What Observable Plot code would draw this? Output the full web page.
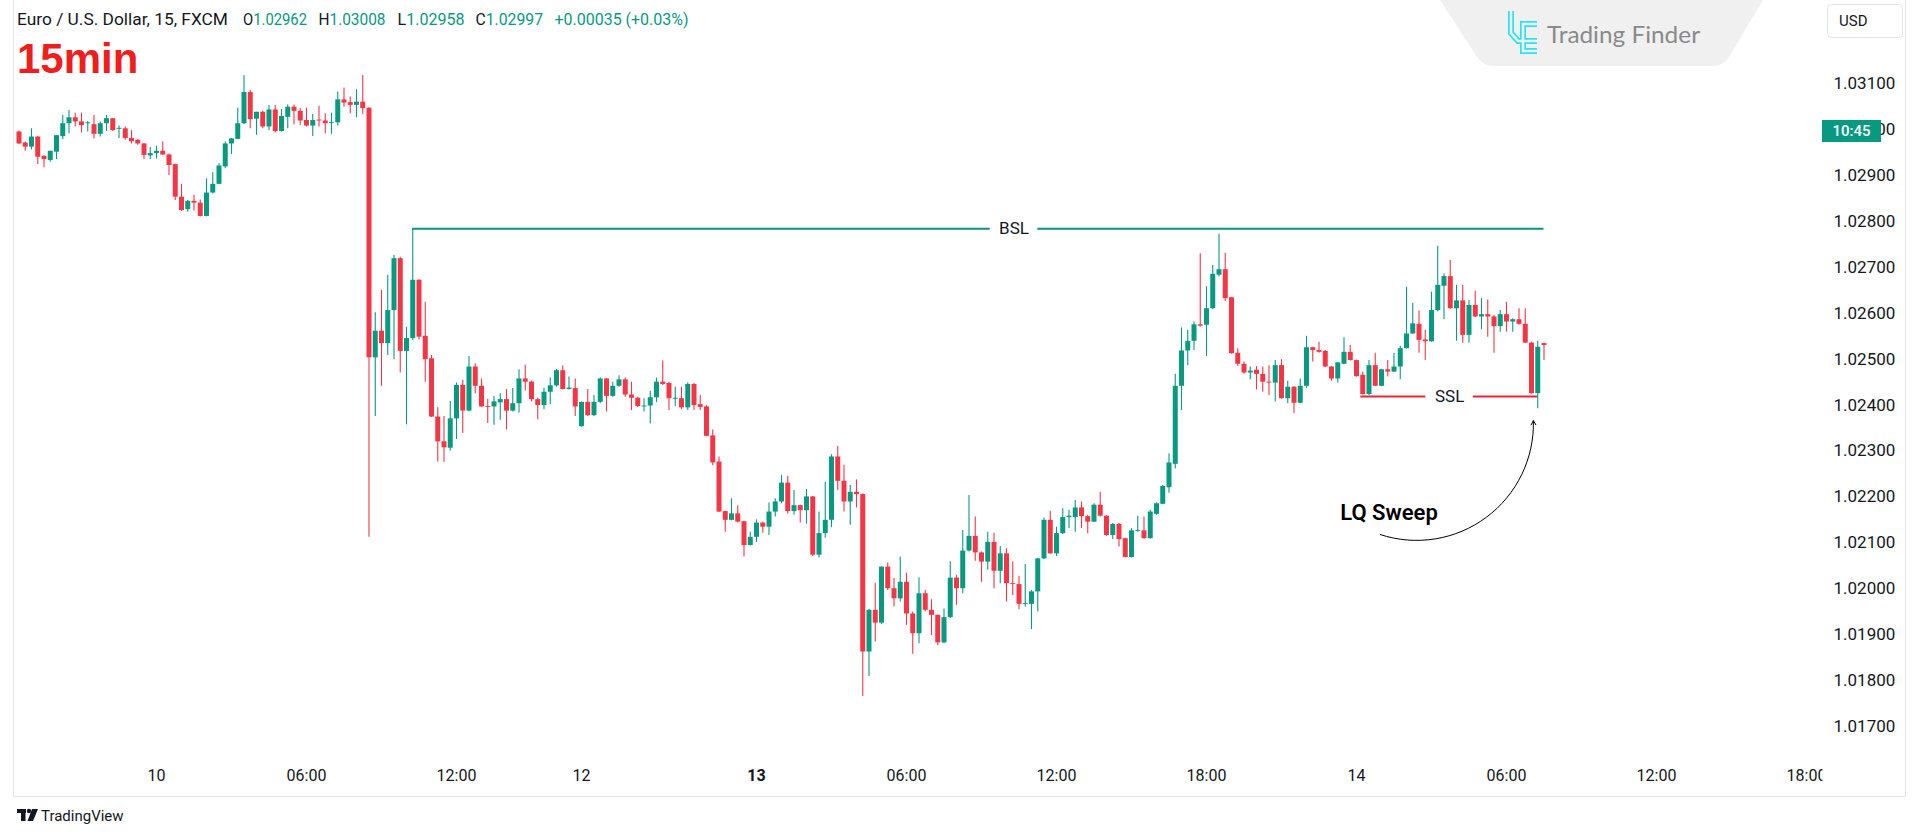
<!DOCTYPE html>
<html><head><meta charset="utf-8">
<script src="https://cdn.jsdelivr.net/npm/d3@7"></script>
<script src="https://cdn.jsdelivr.net/npm/@observablehq/plot@0.6"></script>
<style>
html,body{margin:0;padding:0;background:#fff;}
#wrap{position:relative;width:1920px;height:840px;overflow:hidden;font-family:Roboto,sans-serif;}
#wrap svg{position:absolute;left:0;top:0;}
</style></head>
<body><div id="wrap"></div>
<script>
// ---- data (EUR/USD 15 min candles, bar index relative to 13 Jan 00:00) ----
const firstIndex = -118;
const opens = [
1.02995,1.02971,1.02962,1.02984,1.02942,1.02933,1.02951,1.02985,1.03013,1.03026,
1.03017,1.03013,1.03011,1.02990,1.03013,1.03024,1.03001,1.03002,1.02981,1.02977,
1.02969,1.02943,1.02948,1.02953,1.02945,1.02924,1.02853,1.02826,1.02844,1.02840,
1.02811,1.02862,1.02881,1.02919,1.02969,1.02979,1.03013,1.03081,1.03023,1.03038,
1.03006,1.03043,1.02996,1.03027,1.03049,1.03040,1.03020,1.03008,1.03021,1.03019,
1.03014,1.03015,1.03065,1.03059,1.03053,1.03060,1.03047,1.02503,1.02561,1.02534,
1.02606,1.02719,1.02517,1.02545,1.02672,1.02550,1.02501,1.02374,1.02320,1.02306,
1.02370,1.02443,1.02387,1.02483,1.02441,1.02397,1.02396,1.02405,1.02412,1.02387,
1.02403,1.02457,1.02450,1.02412,1.02399,1.02428,1.02442,1.02475,1.02434,1.02436,
1.02353,1.02406,1.02377,1.02406,1.02457,1.02419,1.02441,1.02455,1.02422,1.02415,
1.02396,1.02398,1.02416,1.02450,1.02447,1.02413,1.02414,1.02394,1.02445,1.02401,
1.02396,1.02333,1.02276,1.02168,1.02149,1.02163,1.02146,1.02094,1.02112,1.02143,
1.02134,1.02167,1.02189,1.02230,1.02168,1.02181,1.02170,1.02200,1.02073,1.02120,
1.02149,1.02287,1.02234,1.02189,1.02210,1.02205,1.01862,1.01953,1.01925,1.02047,
1.02000,1.01978,1.02014,1.01945,1.01902,1.01989,1.01953,1.01942,1.01882,1.01937,
1.02023,1.02000,1.02082,1.02114,1.02078,1.02058,1.02101,1.02038,1.02076,1.02011,
1.02009,1.01966,1.01966,1.01993,1.02065,1.02149,1.02076,1.02120,1.02155,1.02155,
1.02176,1.02157,1.02145,1.02182,1.02158,1.02116,1.02140,1.02109,1.02068,1.02125,
1.02126,1.02109,1.02162,1.02184,1.02220,1.02271,1.02441,1.02518,1.02539,1.02575,
1.02574,1.02610,1.02683,1.02695,1.02634,1.02513,1.02489,1.02470,1.02476,1.02467,
1.02450,1.02448,1.02486,1.02414,1.02439,1.02404,1.02441,1.02525,1.02519,1.02517,
1.02483,1.02457,1.02489,1.02515,1.02497,1.02465,1.02423,1.02486,1.02441,1.02477,
1.02472,1.02483,1.02523,1.02555,1.02576,1.02542,1.02538,1.02606,1.02659,1.02680,
1.02610,1.02627,1.02552,1.02617,1.02592,1.02597,1.02592,1.02571,1.02597,1.02581,
1.02586,1.02576,1.02535,1.02425,1.02534];
const highs = [
1.02997,1.02973,1.03002,1.02985,1.02943,1.02953,1.02987,1.03031,1.03042,1.03036,
1.03036,1.03018,1.03031,1.03017,1.03031,1.03024,1.03008,1.03006,1.02998,1.02978,
1.02970,1.02961,1.02964,1.02973,1.02947,1.02925,1.02881,1.02846,1.02857,1.02847,
1.02893,1.02906,1.02926,1.02973,1.02981,1.03047,1.03118,1.03086,1.03038,1.03040,
1.03053,1.03053,1.03044,1.03054,1.03054,1.03046,1.03047,1.03033,1.03051,1.03035,
1.03036,1.03082,1.03091,1.03071,1.03087,1.03118,1.03048,1.02601,1.02650,1.02683,
1.02726,1.02722,1.02570,1.02784,1.02673,1.02624,1.02508,1.02394,1.02375,1.02408,
1.02448,1.02454,1.02506,1.02490,1.02457,1.02412,1.02419,1.02425,1.02434,1.02436,
1.02477,1.02487,1.02452,1.02415,1.02437,1.02459,1.02478,1.02485,1.02461,1.02457,
1.02407,1.02434,1.02421,1.02459,1.02458,1.02450,1.02464,1.02459,1.02450,1.02417,
1.02414,1.02430,1.02459,1.02496,1.02450,1.02439,1.02439,1.02448,1.02447,1.02421,
1.02399,1.02346,1.02287,1.02169,1.02196,1.02181,1.02147,1.02123,1.02150,1.02145,
1.02187,1.02196,1.02247,1.02245,1.02214,1.02182,1.02216,1.02201,1.02167,1.02232,
1.02292,1.02310,1.02269,1.02225,1.02237,1.02207,1.01955,1.02012,1.02048,1.02056,
1.02022,1.02069,1.02034,1.01949,1.02024,1.01996,1.01976,1.01943,1.01956,1.02059,
1.02029,1.02127,1.02203,1.02156,1.02080,1.02123,1.02121,1.02092,1.02087,1.02058,
1.02027,1.02053,1.01996,1.02066,1.02154,1.02169,1.02134,1.02174,1.02171,1.02192,
1.02189,1.02160,1.02185,1.02210,1.02159,1.02142,1.02142,1.02110,1.02131,1.02158,
1.02156,1.02171,1.02187,1.02225,1.02294,1.02467,1.02568,1.02563,1.02581,1.02730,
1.02658,1.02704,1.02772,1.02731,1.02635,1.02523,1.02494,1.02483,1.02484,1.02483,
1.02486,1.02497,1.02499,1.02452,1.02440,1.02457,1.02550,1.02526,1.02537,1.02519,
1.02484,1.02493,1.02547,1.02530,1.02498,1.02472,1.02497,1.02513,1.02478,1.02497,
1.02513,1.02528,1.02657,1.02622,1.02605,1.02563,1.02646,1.02746,1.02686,1.02715,
1.02661,1.02661,1.02628,1.02648,1.02632,1.02629,1.02595,1.02606,1.02624,1.02588,
1.02610,1.02610,1.02537,1.02539,1.02535];
const lows = [
1.02967,1.02953,1.02956,1.02924,1.02917,1.02929,1.02935,1.02978,1.02991,1.03006,
1.02993,1.02995,1.02980,1.02984,1.02996,1.02996,1.02981,1.02977,1.02969,1.02966,
1.02935,1.02935,1.02936,1.02944,1.02900,1.02846,1.02822,1.02820,1.02823,1.02810,
1.02810,1.02860,1.02880,1.02915,1.02946,1.02978,1.03011,1.03002,1.02988,1.03002,
1.02998,1.02993,1.02995,1.03002,1.03011,1.03009,1.03006,1.02985,1.03006,1.02991,
1.02990,1.03008,1.03049,1.03035,1.03026,1.03033,1.02112,1.02375,1.02441,1.02508,
1.02499,1.02470,1.02357,1.02540,1.02542,1.02450,1.02373,1.02276,1.02275,1.02300,
1.02325,1.02338,1.02385,1.02425,1.02395,1.02360,1.02356,1.02367,1.02346,1.02385,
1.02383,1.02431,1.02407,1.02368,1.02390,1.02401,1.02439,1.02433,1.02433,1.02375,
1.02352,1.02375,1.02375,1.02403,1.02385,1.02417,1.02439,1.02417,1.02388,1.02395,
1.02385,1.02359,1.02406,1.02443,1.02388,1.02397,1.02390,1.02388,1.02388,1.02388,
1.02331,1.02268,1.02166,1.02123,1.02148,1.02143,1.02069,1.02093,1.02101,1.02121,
1.02116,1.02156,1.02185,1.02163,1.02160,1.02143,1.02141,1.02070,1.02067,1.02110,
1.02133,1.02214,1.02167,1.02138,1.02176,1.01765,1.01809,1.01884,1.01922,1.01996,
1.01960,1.01971,1.01920,1.01857,1.01880,1.01950,1.01898,1.01876,1.01880,1.01935,
1.01964,1.01989,1.02080,1.02060,1.02014,1.02040,1.02000,1.02011,1.01971,1.01985,
1.01954,1.01960,1.01911,1.01949,1.02063,1.02075,1.02070,1.02118,1.02131,1.02123,
1.02131,1.02120,1.02144,1.02156,1.02114,1.02107,1.02091,1.02067,1.02067,1.02123,
1.02108,1.02108,1.02160,1.02183,1.02208,1.02261,1.02388,1.02486,1.02519,1.02570,
1.02506,1.02608,1.02679,1.02626,1.02511,1.02484,1.02467,1.02455,1.02433,1.02428,
1.02421,1.02407,1.02413,1.02403,1.02381,1.02403,1.02436,1.02494,1.02513,1.02482,
1.02452,1.02448,1.02488,1.02496,1.02461,1.02422,1.02421,1.02440,1.02440,1.02461,
1.02471,1.02455,1.02522,1.02554,1.02513,1.02497,1.02537,1.02603,1.02586,1.02609,
1.02539,1.02535,1.02535,1.02591,1.02564,1.02548,1.02513,1.02559,1.02559,1.02559,
1.02574,1.02534,1.02424,1.02392,1.02497];
const closes = [
1.02969,1.02962,1.02984,1.02940,1.02935,1.02953,1.02987,1.03013,1.03026,1.03017,
1.03009,1.03015,1.02990,1.03013,1.03024,1.02998,1.03003,1.02981,1.02974,1.02969,
1.02944,1.02948,1.02953,1.02945,1.02922,1.02853,1.02824,1.02844,1.02840,1.02811,
1.02862,1.02881,1.02921,1.02969,1.02980,1.03013,1.03081,1.03022,1.03038,1.03006,
1.03043,1.02996,1.03029,1.03049,1.03040,1.03019,1.03008,1.03020,1.03019,1.03013,
1.03016,1.03065,1.03058,1.03053,1.03060,1.03046,1.02503,1.02561,1.02534,1.02606,
1.02719,1.02517,1.02545,1.02672,1.02548,1.02499,1.02374,1.02320,1.02307,1.02370,
1.02443,1.02387,1.02483,1.02441,1.02396,1.02395,1.02407,1.02412,1.02387,1.02403,
1.02457,1.02450,1.02412,1.02399,1.02428,1.02442,1.02475,1.02434,1.02437,1.02396,
1.02406,1.02377,1.02406,1.02457,1.02419,1.02441,1.02455,1.02422,1.02415,1.02397,
1.02398,1.02416,1.02450,1.02445,1.02414,1.02415,1.02394,1.02445,1.02399,1.02395,
1.02332,1.02274,1.02167,1.02149,1.02163,1.02145,1.02094,1.02112,1.02143,1.02134,
1.02167,1.02189,1.02230,1.02168,1.02181,1.02170,1.02200,1.02073,1.02120,1.02149,
1.02287,1.02234,1.02189,1.02210,1.02205,1.01862,1.01953,1.01925,1.02047,1.02000,
1.01978,1.02014,1.01945,1.01902,1.01989,1.01953,1.01942,1.01882,1.01937,1.02023,
1.02000,1.02082,1.02114,1.02078,1.02058,1.02101,1.02038,1.02076,1.02011,1.02009,
1.01966,1.01968,1.01993,1.02065,1.02149,1.02076,1.02120,1.02155,1.02158,1.02176,
1.02157,1.02145,1.02182,1.02158,1.02116,1.02140,1.02107,1.02068,1.02126,1.02127,
1.02109,1.02167,1.02185,1.02223,1.02274,1.02441,1.02518,1.02539,1.02575,1.02572,
1.02610,1.02685,1.02695,1.02632,1.02512,1.02489,1.02470,1.02474,1.02467,1.02450,
1.02448,1.02486,1.02414,1.02439,1.02404,1.02441,1.02525,1.02519,1.02515,1.02483,
1.02457,1.02492,1.02515,1.02497,1.02462,1.02423,1.02486,1.02441,1.02477,1.02472,
1.02483,1.02523,1.02555,1.02577,1.02541,1.02538,1.02606,1.02661,1.02680,1.02610,
1.02627,1.02552,1.02617,1.02592,1.02597,1.02592,1.02571,1.02597,1.02581,1.02586,
1.02576,1.02535,1.02425,1.02526,1.02530];

const timeTickIndex  = [-96, -72, -48, -28, 0, 24, 48, 72, 96, 120, 144, 168];
const timeTickLabels = ["10", "06:00", "12:00", "12", "13", "06:00", "12:00", "18:00", "14", "06:00", "12:00", "18:00"];
const priceTicks = [1.017, 1.018, 1.019, 1.020, 1.021, 1.022, 1.023, 1.024, 1.025, 1.026, 1.027, 1.028, 1.029, 1.030, 1.031];

const levelNames   = ["BSL", "SSL"];
const levelPrices  = [1.02784, 1.02419];
const levelFrom    = [-55, 96.7];
const levelTo      = [126, 125];
const levelLabelAt = [41.2, 110.9];

const noteTexts  = ["LQ Sweep"];
const noteIndex  = [93.4];
const notePrices = [1.02164];
const arrowFrom  = [[99.8, 1.02118]];
const arrowTo    = [[124.3, 1.02366]];

const headerTitle  = "Euro / U.S. Dollar, 15, FXCM";
const headerKeys   = ["O", "H", "L", "C"];
const headerValues = ["1.02962", "1.03008", "1.02958", "1.02997"];
const headerChange = "+0.00035 (+0.03%)";
const timeframeLabel = "15min";
const countdownLabel = "10:45";

// ---- build ----
const UP = "#089981", DOWN = "#f23645";
const rows = opens.map((o, k) => ({i: firstIndex + k, o, h: highs[k], l: lows[k], c: closes[k]}));
const col = d => d.c >= d.o ? UP : DOWN;
const tickLabel = new Map(timeTickIndex.map((v, k) => [v, timeTickLabels[k]]));
const levels = levelNames.map((name, k) => ({name, price: levelPrices[k], from: levelFrom[k], to: levelTo[k], at: levelLabelAt[k]}));
const GAP = 3.8;
const segs = levels.flatMap(d => [
  {name: d.name, price: d.price, x1: d.from, x2: d.at - GAP},
  {name: d.name, price: d.price, x1: d.at + GAP, x2: d.to}
]);
const levelColor = {BSL: "#0b9580", SSL: "#e8243a"};
const notes = noteTexts.map((t, k) => ({text: t, i: noteIndex[k], price: notePrices[k]}));
const arrows = arrowFrom.map((a, k) => ({i1: a[0], p1: a[1], i2: arrowTo[k][0], p2: arrowTo[k][1]}));

const chart = Plot.plot({
  width: 1920, height: 840,
  marginLeft: 13, marginRight: 98, marginTop: 0, marginBottom: 82,
  style: {fontFamily: "Roboto, sans-serif", fontSize: "16px", color: "#131722", background: "transparent", overflow: "visible"},
  x: {type: "linear", domain: [-118.88, 170.56], axis: null},
  y: {type: "linear", domain: [1.016301, 1.032815], axis: null},
  marks: [
    Plot.axisX({ticks: timeTickIndex, tickFormat: d => tickLabel.get(d), tickSize: 0, tickPadding: 11, label: null, fontSize: 16}),
    Plot.axisY({ticks: priceTicks, tickFormat: d => d.toFixed(5), anchor: "right", tickSize: 0, tickPadding: 11, label: null, fontSize: 17}),
    Plot.ruleX(rows, {x: "i", y1: "l", y2: "h", stroke: col, strokeWidth: 1.1}),
    Plot.ruleX(rows, {x: "i", y1: "o", y2: "c", stroke: col, strokeWidth: 5}),
    Plot.ruleY(segs, {y: "price", x1: "x1", x2: "x2", stroke: d => levelColor[d.name], strokeWidth: 2}),
    Plot.text(levels, {x: "at", y: "price", text: "name", fontSize: 17, fill: "#131722"}),
    Plot.text(notes, {x: "i", y: "price", text: "text", textAnchor: "start", fontSize: 22, fontWeight: 600, fill: "#000"}),
    Plot.arrow(arrows, {x1: "i1", y1: "p1", x2: "i2", y2: "p2", bend: -55, stroke: "#000", strokeWidth: 1, headLength: 7})
  ]
});

const wrap = document.getElementById("wrap");
wrap.appendChild(chart);

// bold day label and clip time labels at the price scale
const svg = d3.select(chart);
svg.selectAll('g[aria-label="x-axis tick label"] text').filter(function(){ return this.textContent === "13"; }).attr("font-weight", "bold");
const defs = svg.insert("defs", ":first-child");
defs.append("clipPath").attr("id", "xclip").append("rect").attr("x", 0).attr("y", 0).attr("width", 1822).attr("height", 840);
svg.select('g[aria-label="x-axis tick label"]').attr("clip-path", "url(#xclip)");

// overlay (header, branding, price-scale widgets)
const hx = [243, 318.5, 397.5, 475.5];
const hw = [64, 67, 67, 67.5];
let hdr = `<text x="17" y="25" textLength="211" lengthAdjust="spacingAndGlyphs" font-family="Roboto" font-size="16" fill="#131722">${headerTitle}</text>`;
headerKeys.forEach((k, j) => {
  hdr += `<text x="${hx[j]}" y="25" textLength="${hw[j]}" lengthAdjust="spacingAndGlyphs" font-family="Roboto" font-size="16" fill="#131722">${k}<tspan fill="#089981">${headerValues[j]}</tspan></text>`;
});
hdr += `<text x="554.5" y="25" textLength="134" lengthAdjust="spacingAndGlyphs" font-family="Roboto" font-size="16" fill="#089981">${headerChange}</text>`;

const iconA = "M1511,11 V33 L1518,41 H1537";
const iconB = "M1537,24 H1523 V51 H1537";
const ov = `<svg width="1920" height="840" xmlns="http://www.w3.org/2000/svg" style="pointer-events:none">
  <path d="M13.5,0 V796.5 H1905.5 V0" fill="none" stroke="#e3e5ea" stroke-width="1"/>
  <path d="M1440,0 L1477,57 Q1483,66 1494,66 L1712,66 Q1723,66 1729,57 L1763,0 Z" fill="#f0f0f0"/>
  <path d="${iconA}" stroke="#2ae3f0" stroke-width="6" fill="none" stroke-linejoin="miter"/>
  <path d="${iconB}" stroke="#2ae3f0" stroke-width="6" fill="none" stroke-linejoin="miter"/>
  <path d="${iconA}" stroke="#f0f0f0" stroke-width="2.6" fill="none" stroke-linejoin="miter"/>
  <path d="${iconB}" stroke="#f0f0f0" stroke-width="2.6" fill="none" stroke-linejoin="miter"/>
  <text x="1547" y="43" textLength="153" lengthAdjust="spacingAndGlyphs" font-family="Lato" font-size="23" fill="#8a8a8a">Trading Finder</text>
  <rect x="1827.5" y="4.5" width="75" height="33" rx="4" fill="#fff" stroke="#e0e3eb"/>
  <text x="1839" y="26" font-family="Roboto" font-size="15" fill="#131722">USD</text>
  <rect x="1822" y="120" width="59" height="22" fill="#089981"/>
  <text x="1851.5" y="136" text-anchor="middle" font-family="Roboto" font-size="15" font-weight="500" fill="#fff">${countdownLabel}</text>
  ${hdr}
  <text x="17" y="73" font-family="Liberation Sans" font-weight="bold" font-size="42" fill="#f01d1d">${timeframeLabel}</text>
  <rect x="17" y="809" width="9" height="4" fill="#131722"/>
  <rect x="21" y="809" width="4.5" height="12" fill="#131722"/>
  <circle cx="29" cy="811" r="2.2" fill="#131722"/>
  <path d="M32,809 H38 L33,821 H27.5 Z" fill="#131722"/>
  <text x="41" y="821" font-family="Roboto" font-size="15" fill="#131722">TradingView</text>
</svg>`;
wrap.insertAdjacentHTML("beforeend", ov);
</script>
</body></html>
